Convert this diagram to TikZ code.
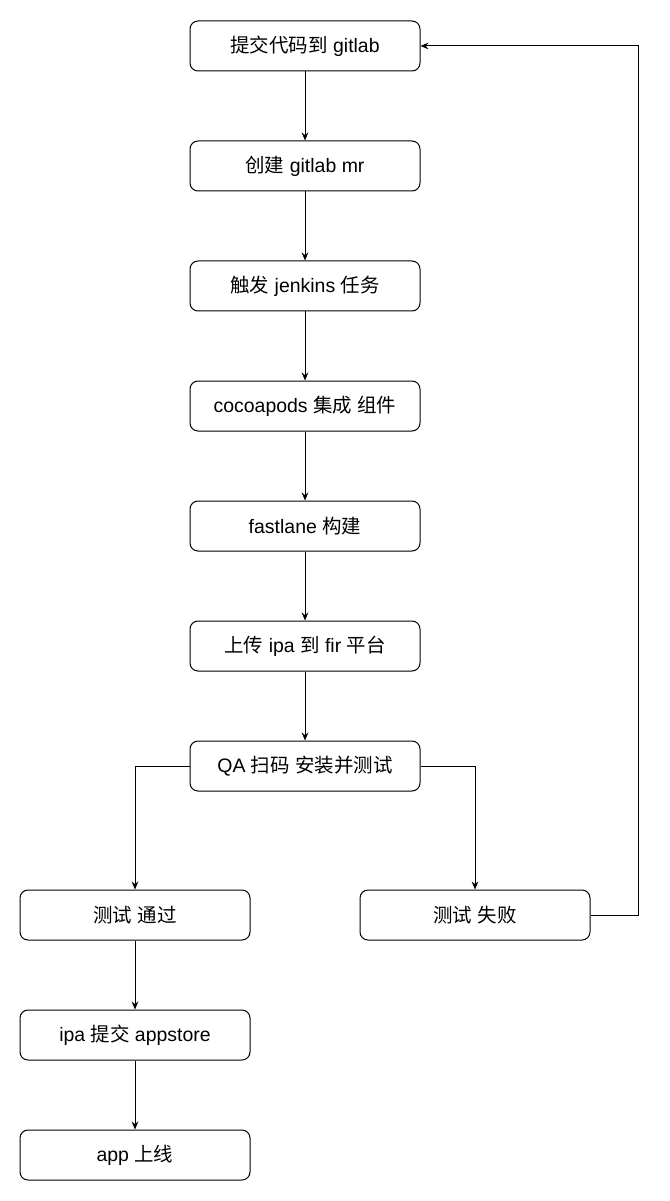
\documentclass[tikz,border=0pt]{standalone}
\usepackage{fontspec}
\setmainfont{Liberation Sans}
\newfontfamily\cjkfont{Noto Sans CJK SC}
\newcommand{\zh}[1]{{\cjkfont #1}}
\usetikzlibrary{arrows.meta}
\begin{document}
\begin{tikzpicture}[x=0.75pt,y=-0.75pt,
  stepbox/.style={draw,line width=0.75pt,rounded corners=6pt,minimum width=172.5pt,minimum height=37.5pt,inner sep=0pt,font=\fontsize{14.6}{17}\selectfont},
  conn/.style={line width=0.75pt,-{Stealth[length=6pt,width=5pt]}}]
\useasboundingbox (0,0) rectangle (669,1201);
\node[stepbox] (a) at (305,46) {\zh{提交代码到} gitlab};
\node[stepbox] (b) at (305,166) {\zh{创建} gitlab mr};
\node[stepbox] (c) at (305,286) {\zh{触发} jenkins \zh{任务}};
\node[stepbox] (d) at (305,406) {cocoapods \zh{集成} \zh{组件}};
\node[stepbox] (e) at (305,526) {fastlane \zh{构建}};
\node[stepbox] (f) at (305,646) {\zh{上传} ipa \zh{到} fir \zh{平台}};
\node[stepbox] (g) at (305,766) {QA \zh{扫码} \zh{安装并测试}};
\node[stepbox] (h) at (135,915) {\zh{测试} \zh{通过}};
\node[stepbox] (i) at (475,915) {\zh{测试} \zh{失败}};
\node[stepbox] (j) at (135,1035) {ipa \zh{提交} appstore};
\node[stepbox] (k) at (135,1155) {app \zh{上线}};
\coordinate (r) at (638,0);
\draw[conn] (a) -- (b);
\draw[conn] (b) -- (c);
\draw[conn] (c) -- (d);
\draw[conn] (d) -- (e);
\draw[conn] (e) -- (f);
\draw[conn] (f) -- (g);
\draw[conn] (g.west) -| (h.north);
\draw[conn] (g.east) -| (i.north);
\draw[conn] (h) -- (j);
\draw[conn] (j) -- (k);
\draw[conn] (i.east) -- (i.east -| r) -- (a.east -| r) -- (a.east);
\end{tikzpicture}
\end{document}
